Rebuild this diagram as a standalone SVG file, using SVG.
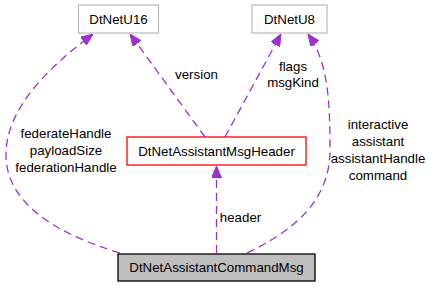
<svg xmlns="http://www.w3.org/2000/svg" width="430" height="288" viewBox="0 0 430 288">
<style>
text{font-family:"Liberation Sans",Arial,Helvetica,sans-serif;font-size:13.3px;fill:#000;}
.node text{text-anchor:middle;}
.gray rect{fill:#fff;stroke:#bfbfbf;stroke-width:1.3;}
.red rect{fill:#fff;stroke:#ff0000;stroke-width:1.3;}
.main rect{fill:#bfbfbf;stroke:#000;stroke-width:1.3;}
.edge{fill:none;stroke:#9a32cd;stroke-width:1.3;stroke-dasharray:8,5;}
.lbl{text-anchor:middle;}
</style>
<defs>
<marker id="ah" markerUnits="userSpaceOnUse" markerWidth="12" markerHeight="10" viewBox="0 0 12 10" refX="12" refY="5" orient="auto">
<path d="M0,0 L12,5 L0,10 z" fill="#9a32cd" stroke="#9a32cd" stroke-width="1"/>
</marker>
</defs>
<rect width="430" height="288" fill="#fff"/>
<g id="connectors">
<path class="edge" marker-end="url(#ah)" d="M120,253 C50,232 6,200 6,155 C6,110 45,70 93,34"/>
<path class="edge" marker-end="url(#ah)" d="M205,137 L130,34"/>
<path class="edge" marker-end="url(#ah)" d="M225,137 L281,34"/>
<path class="edge" marker-end="url(#ah)" d="M247,253 C295,230 330,200 330,150 C330,100 328,62 308,34"/>
<path class="edge" marker-end="url(#ah)" d="M216.5,253 L216.5,166"/>
<text class="lbl" x="66" y="138">federateHandle</text>
<text class="lbl" x="66" y="155">payloadSize</text>
<text class="lbl" x="66" y="172">federationHandle</text>
<text class="lbl" x="196.5" y="79">version</text>
<text class="lbl" x="293" y="71">flags</text>
<text class="lbl" x="293" y="87">msgKind</text>
<text class="lbl" x="378" y="129">interactive</text>
<text class="lbl" x="378" y="146">assistant</text>
<text class="lbl" x="378" y="163">assistantHandle</text>
<text class="lbl" x="378" y="180">command</text>
<text class="lbl" x="240.5" y="222">header</text>
</g>
<g id="DtNetU16" class="node gray">
<rect x="78.5" y="5" width="80" height="28"/>
<text x="118.5" y="23.5">DtNetU16</text>
</g>
<g id="DtNetU8" class="node gray">
<rect x="252" y="5" width="75" height="28"/>
<text x="289.5" y="23.5">DtNetU8</text>
</g>
<g id="DtNetAssistantMsgHeader" class="node red">
<rect x="127" y="137" width="179" height="28"/>
<text x="216.5" y="155.5">DtNetAssistantMsgHeader</text>
</g>
<g id="DtNetAssistantCommandMsg" class="node main">
<rect x="118" y="254" width="197" height="27"/>
<text x="216.5" y="272">DtNetAssistantCommandMsg</text>
</g>
</svg>
